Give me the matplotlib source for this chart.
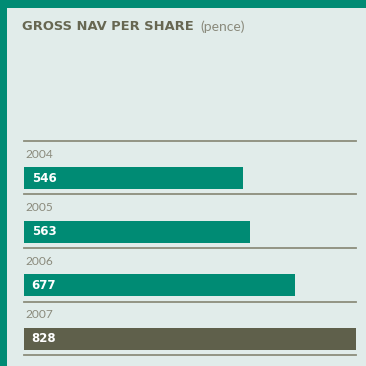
import matplotlib.pyplot as plt

years = ['2004', '2005', '2006', '2007']
nav_pence = [546, 563, 677, 828]
bar_colors = ['#008b74', '#008b74', '#008b74', '#5f604b']

W = H = 366
fig = plt.figure(figsize=(W / 100, H / 100), dpi=100)
fig.patch.set_facecolor('#008b74')

# light panel inside the teal frame (top and left edges)
bg = fig.add_axes([7.5 / W, 0, 1 - 7.5 / W, 1 - 7.5 / H], zorder=-1)
bg.set_facecolor('#e1ecea')
bg.set_xticks([])
bg.set_yticks([])
for s in bg.spines.values():
    s.set_visible(False)

fig.text(22 / W, 1 - 27 / H, 'GROSS NAV PER SHARE', fontsize=9.4, fontweight='bold',
         color='#676752', family='DejaVu Sans', va='center', ha='left')
fig.text(200 / W, 1 - 26.5 / H, '(pence)', fontsize=10, color='#8a8a7c',
         family='Lato', va='center', ha='left')

# bar area in pixels: x 24..356, y 140.7..355.3
top, bottom, left, right = 140.7, 355.3, 24, 356
ax = fig.add_axes([left / W, 1 - bottom / H, (right - left) / W, (bottom - top) / H])
ax.set_xlim(0, max(nav_pence))
ax.set_ylim(len(years), 0)
ax.axis('off')

row_h = (bottom - top) / len(years)
bar_c = (178 - top) / row_h
bar_h = 22 / row_h
lbl_c = (154 - top) / row_h

for i in range(len(years) + 1):
    ax.axhline(i, color='#8c8d7c', linewidth=1.3, clip_on=False)

for i, (yr, v, c) in enumerate(zip(years, nav_pence, bar_colors)):
    ax.barh(i + bar_c, v, height=bar_h, color=c, linewidth=0)
    ax.text(3, i + lbl_c, yr, fontsize=8.6, color='#8a8a7c', family='Lato',
            va='center', ha='left')
    ax.text(19, i + bar_c, str(v), fontsize=8.5, fontweight='bold', color='white',
            family='DejaVu Sans', va='center', ha='left')

fig.savefig('out.png', dpi=100, facecolor=fig.get_facecolor())
